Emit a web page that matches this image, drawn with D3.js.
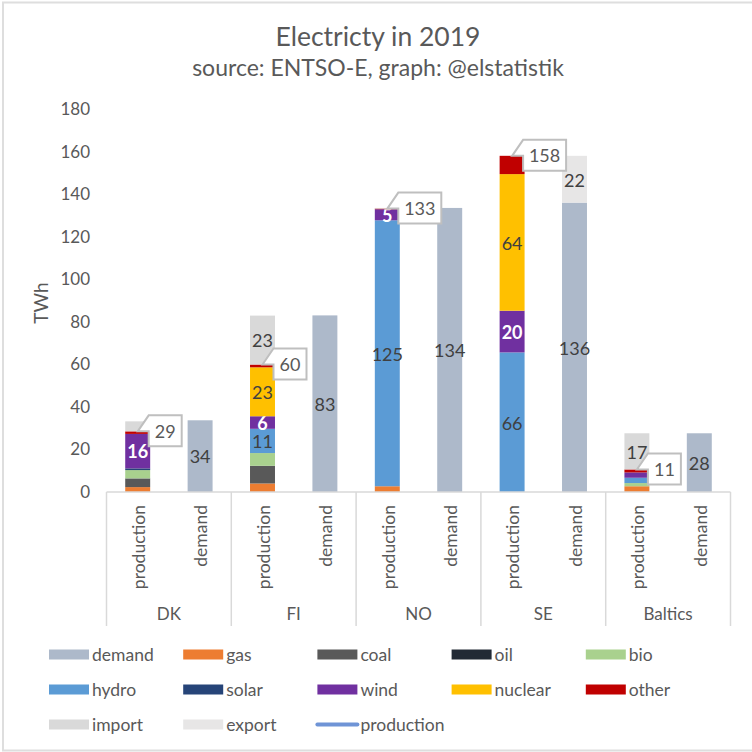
<!DOCTYPE html>
<html>
<head>
<meta charset="utf-8">
<script src="https://cdn.jsdelivr.net/npm/d3@7"></script>
<style>
    body { margin: 0; background: #fff; }
    text { font-family: Lato, "Open Sans", sans-serif; fill: #595959; }
</style>
</head>
<body>
<div id="chart"></div>
<script>
'use strict';

// Data (TWh)
const regions = ['DK', 'FI', 'NO', 'SE', 'Baltics'];
const kinds = ['production', 'demand'];
const yTicks = [0, 20, 40, 60, 80, 100, 120, 140, 160, 180];

const demand = [33.7, 83, 133.5, 136, 27.6];
const gas = [2.3, 4, 2.7, 0, 2.7];
const coal = [4, 8.3, 0, 0, 0];
const oil = [0.1, 0, 0, 0, 0];
const bio = [3.9, 6, 0, 0, 1.5];
const hydro = [0, 11.4, 125, 65.6, 2.5];
const solar = [0.8, 0, 0, 0, 0];
const wind = [16.2, 5.9, 5.2, 19.6, 2.5];
const nuclear = [0, 23, 0, 64.2, 0];
const other = [1.2, 1.3, 0.3, 8.6, 1.4];
const imports = [4.7, 23, 0.3, 0, 17];
const exports_ = [0, 0, 0, 22, 0];
const production = [28.5, 59.9, 133.2, 158, 10.6];

const seriesNames = ['demand', 'gas', 'coal', 'oil', 'bio', 'hydro', 'solar', 'wind', 'nuclear', 'other', 'import', 'export'];
const seriesColors = ['#adb9ca', '#ed7d31', '#595959', '#222a35', '#a9d18e', '#5b9bd5', '#264478', '#7030a0', '#ffc000', '#c00000', '#d9d9d9', '#e7e6e6'];
const labelled = ['demand', 'hydro', 'wind', 'nuclear', 'import', 'export'];

// Build one row per bar for the stack
const prodCols = {gas, coal, oil, bio, hydro, solar, wind, nuclear, other, import: imports};
const rows = [];
regions.forEach((region, i) => {
    const prodRow = {region, kind: 'production'};
    const demRow = {region, kind: 'demand', demand: demand[i], export: exports_[i]};
    Object.keys(prodCols).forEach(k => { prodRow[k] = prodCols[k][i]; });
    rows.push(prodRow, demRow);
});

// Config
const w = 752, h = 752;
const svg = d3.select('#chart').append('svg')
    .attr('width', w)
    .attr('height', h)
    .style('display', 'block');

// Frame, runs off the right edge of the screenshot
svg.append('path')
    .attr('d', 'M752,2.5H3V750.5H752')
    .attr('fill', 'none')
    .attr('stroke', '#dedede')
    .attr('stroke-width', 2);

// Scales
const x0 = d3.scaleBand().domain(regions).range([106.5, 730.5]);
const x1 = d3.scaleBand().domain(kinds).range([0, x0.bandwidth()]).paddingInner(0.6).paddingOuter(0.3);
const y = d3.scaleLinear().domain([0, 180]).range([492, 109]);
const color = d3.scaleOrdinal(seriesNames, seriesColors);

// Titles
svg.append('text').attr('x', 378).attr('y', 46)
    .attr('text-anchor', 'middle').style('font-size', '26.5px').text('Electricty in 2019');
svg.append('text').attr('x', 378).attr('y', 76)
    .attr('text-anchor', 'middle').style('font-size', '23px').text('source: ENTSO-E, graph: @elstatistik');
svg.append('text')
    .attr('transform', 'translate(48,303) rotate(-90)')
    .attr('text-anchor', 'middle').style('font-size', '19px').text('TWh');

// Y axis, labels only
const yAxis = svg.append('g')
    .attr('transform', 'translate(90,0)')
    .call(d3.axisLeft(y).tickValues(yTicks).tickSize(0).tickPadding(0));
yAxis.select('.domain').remove();
yAxis.selectAll('text').style('font-size', '17px').style('font-family', 'Lato, sans-serif').attr('fill', null);

// Stacked bars
const stacked = d3.stack().keys(seriesNames).value((d, k) => d[k] || 0)(rows);
const barX = d => x0(d.data.region) + x1(d.data.kind);

const layers = svg.selectAll('.layer')
    .data(stacked)
    .join('g')
    .attr('class', 'layer')
    .attr('fill', d => color(d.key));

layers.selectAll('rect')
    .data(d => d.filter(p => p[1] > p[0]))
    .join('rect')
    .attr('x', barX)
    .attr('y', d => y(d[1]))
    .attr('width', x1.bandwidth())
    .attr('height', d => y(d[0]) - y(d[1]));

// Data labels on the bars
layers.filter(d => labelled.includes(d.key))
    .each(function(s) {
        d3.select(this).selectAll('text')
            .data(s.filter(p => p[1] - p[0] >= 5))
            .join('text')
            .attr('x', d => barX(d) + x1.bandwidth() / 2)
            .attr('y', d => y((d[0] + d[1]) / 2) + 1)
            .attr('dy', '0.35em')
            .attr('text-anchor', 'middle')
            .style('font-size', '18px')
            .style('font-weight', s.key === 'wind' ? 700 : 400)
            .style('fill', s.key === 'wind' ? '#fff' : '#404040')
            .text(d => Math.round(d[1] - d[0]));
    });

// Axis lines and the two levels of category labels
const axisG = svg.append('g');
axisG.append('line')
    .attr('x1', x0.range()[0]).attr('x2', x0.range()[1])
    .attr('y1', y(0)).attr('y2', y(0))
    .attr('stroke', '#d9d9d9').attr('stroke-width', 1.5);

axisG.selectAll('.sep')
    .data(regions.map(r => x0(r)).concat(x0.range()[1]))
    .join('line')
    .attr('class', 'sep')
    .attr('x1', d => d).attr('x2', d => d)
    .attr('y1', y(0)).attr('y2', 626)
    .attr('stroke', '#d9d9d9').attr('stroke-width', 1.5);

rows.forEach(d => {
    const cx = x0(d.region) + x1(d.kind) + x1.bandwidth() / 2;
    axisG.append('text')
        .attr('transform', `translate(${cx + 2},505) rotate(-90)`)
        .attr('text-anchor', 'end')
        .attr('dy', '0.3em')
        .style('font-size', '17.5px')
        .text(d.kind);
});

axisG.selectAll('.region')
    .data(regions)
    .join('text')
    .attr('class', 'region')
    .attr('x', d => x0(d) + x0.bandwidth() / 2)
    .attr('y', 620)
    .attr('text-anchor', 'middle')
    .style('font-size', '17px')
    .text(d => d);

// Callouts for the production line series
const calloutW = v => 13 + 10 * String(Math.round(v)).length;

const callouts = svg.selectAll('.callout')
    .data(regions)
    .join('g')
    .attr('class', 'callout')
    .attr('transform', (d, i) => {
        const tipX = x0(d) + x1('production') + x1.bandwidth() / 2;
        return `translate(${tipX},${y(production[i])})`;
    });

callouts.append('path')
    .attr('d', (d, i) => `M0,0L11,-16H${11 + calloutW(production[i])}V15H11V0Z`)
    .attr('fill', '#fff')
    .attr('stroke', '#bfbfbf')
    .attr('stroke-width', 2);

callouts.append('text')
    .attr('x', (d, i) => 11 + calloutW(production[i]) / 2)
    .attr('dy', '0.35em')
    .attr('text-anchor', 'middle')
    .style('font-size', '18px')
    .text((d, i) => Math.round(production[i]));

// Legend
const legendNames = seriesNames.concat('production');
const legendX = d3.scaleBand().domain(d3.range(5)).range([49, 720]);
const legendY = d3.scaleBand().domain(d3.range(3)).range([637, 742]);

const legend = svg.selectAll('.legend')
    .data(legendNames)
    .join('g')
    .attr('class', 'legend')
    .attr('transform', (d, i) => `translate(${legendX(i % 5)},${legendY(Math.floor(i / 5)) + legendY.bandwidth() / 2})`);

legend.filter(d => d !== 'production')
    .append('rect')
    .attr('y', -5)
    .attr('width', 40)
    .attr('height', 10)
    .attr('fill', d => color(d));

legend.filter(d => d === 'production')
    .append('line')
    .attr('x1', 0).attr('x2', 40)
    .attr('stroke', '#6f94d6')
    .attr('stroke-width', 4)
    .attr('stroke-linecap', 'round');

legend.append('text')
    .attr('x', 43)
    .attr('dy', '0.35em')
    .style('font-size', '17.5px')
    .text(d => d);
</script>
</body>
</html>
